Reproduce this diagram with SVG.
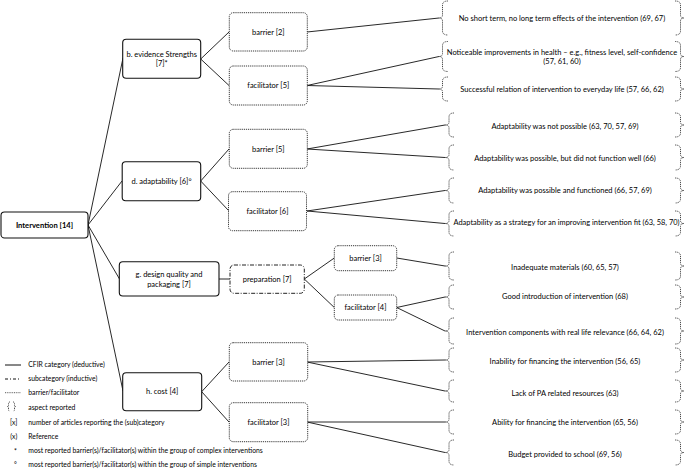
<svg xmlns="http://www.w3.org/2000/svg" width="685" height="469" viewBox="0 0 685 469">
<style>
text{font-family:Lato,"Liberation Sans",sans-serif;fill:#000;}
.t{font-size:7.5px;text-anchor:middle;}
.tb{font-size:7.6px;text-anchor:middle;font-weight:bold;}
.lg{font-size:6.8px;}
.lgc{font-size:6.8px;text-anchor:middle;}
.cat{fill:#fff;stroke:#111;stroke-width:1.1;}
.bf{fill:#fff;stroke:#222;stroke-width:0.9;stroke-dasharray:1.2 0.9;}
.sub{fill:#fff;stroke:#222;stroke-width:1;stroke-dasharray:4 1.5 1 1.5;}
.br{fill:none;stroke:#333;stroke-width:0.9;stroke-dasharray:1.1 0.8;}
.c{stroke:#111;stroke-width:0.9;fill:none;}
</style>
<rect width="685" height="469" fill="#fff"/>
<g id="connectors">
<line class="c" x1="88" y1="225" x2="123" y2="58"/>
<line class="c" x1="88" y1="225" x2="122" y2="181"/>
<line class="c" x1="88" y1="225" x2="119.5" y2="279"/>
<line class="c" x1="88" y1="225" x2="123" y2="391"/>
<line class="c" x1="200.7" y1="59" x2="229" y2="32"/>
<line class="c" x1="200.7" y1="59" x2="229" y2="85.5"/>
<line class="c" x1="200.7" y1="181" x2="229" y2="149"/>
<line class="c" x1="200.7" y1="181" x2="229" y2="211"/>
<line class="c" x1="219" y1="279" x2="230" y2="279"/>
<line class="c" x1="304.3" y1="279" x2="334.3" y2="258"/>
<line class="c" x1="304.3" y1="279" x2="334.3" y2="307.5"/>
<line class="c" x1="201.7" y1="391.7" x2="229" y2="362"/>
<line class="c" x1="201.7" y1="391.7" x2="229" y2="422"/>
<line class="c" x1="307" y1="32" x2="439" y2="18"/>
<line class="c" x1="307" y1="85.5" x2="439" y2="56.5"/>
<line class="c" x1="307" y1="85.5" x2="439" y2="89"/>
<line class="c" x1="307" y1="149" x2="445" y2="125"/>
<line class="c" x1="307" y1="149" x2="445" y2="157.5"/>
<line class="c" x1="307" y1="211" x2="445" y2="190.5"/>
<line class="c" x1="307" y1="211" x2="445" y2="223.5"/>
<line class="c" x1="396.7" y1="258" x2="445" y2="266"/>
<line class="c" x1="396.7" y1="307.5" x2="445" y2="297"/>
<line class="c" x1="396.7" y1="307.5" x2="445" y2="331"/>
<line class="c" x1="307" y1="362" x2="445" y2="360"/>
<line class="c" x1="307" y1="362" x2="445" y2="391"/>
<line class="c" x1="307" y1="422" x2="445" y2="422"/>
<line class="c" x1="307" y1="422" x2="445" y2="452.5"/>
</g>
<g id="intervention"><rect class="cat" x="1" y="212" width="87" height="26" rx="3.5"/><text class="tb" x="44.5" y="227.7">Intervention [14]</text></g>
<g id="cat-b"><rect class="cat" x="122.7" y="39.3" width="78" height="39" rx="3.5"/><text class="t" x="161.7" y="56.7">b. evidence Strengths</text><text class="t" x="161.7" y="65.7">[7]*</text></g>
<g id="cat-d"><rect class="cat" x="122.2" y="161.7" width="78.5" height="39" rx="3.5"/><text class="t" x="161.5" y="183.7">d. adaptability [6]°</text></g>
<g id="cat-g"><rect class="cat" x="119.3" y="261.7" width="99.7" height="34.3" rx="3.5"/><text class="t" x="169" y="277.2">g. design quality and</text><text class="t" x="169" y="287.2">packaging [7]</text></g>
<g id="cat-h"><rect class="cat" x="122.7" y="372.7" width="79" height="38" rx="3.5"/><text class="t" x="162.2" y="394.4">h. cost [4]</text></g>
<g id="b-barrier"><rect class="bf" x="229.3" y="12.7" width="78" height="38.3" rx="4"/><text class="t" x="268.3" y="34.5">barrier [2]</text></g>
<g id="b-facilitator"><rect class="bf" x="229.3" y="66" width="78" height="39" rx="4"/><text class="t" x="268.3" y="88">facilitator [5]</text></g>
<g id="d-barrier"><rect class="bf" x="229.3" y="129.3" width="78" height="39" rx="4"/><text class="t" x="268.3" y="151.5">barrier [5]</text></g>
<g id="d-facilitator"><rect class="bf" x="228.5" y="191.7" width="78" height="39" rx="4"/><text class="t" x="267.5" y="213.5">facilitator [6]</text></g>
<g id="g-preparation"><rect class="sub" x="230" y="265" width="74.3" height="28.3" rx="4"/><text class="t" x="267.2" y="281.5">preparation [7]</text></g>
<g id="g-barrier"><rect class="bf" x="334.3" y="245.7" width="62.4" height="25" rx="4"/><text class="t" x="365.5" y="260.5">barrier [3]</text></g>
<g id="g-facilitator"><rect class="bf" x="334.3" y="295" width="62.4" height="25" rx="4"/><text class="t" x="365.5" y="310">facilitator [4]</text></g>
<g id="h-barrier"><rect class="bf" x="229.3" y="342.7" width="78.4" height="38.3" rx="4"/><text class="t" x="268.5" y="364.5">barrier [3]</text></g>
<g id="h-facilitator"><rect class="bf" x="229.3" y="402.7" width="78.4" height="39" rx="4"/><text class="t" x="268.5" y="424.5">facilitator [3]</text></g>
<g id="a1"><path class="br" d="M448,1 Q442.5,1 442.5,5 L442.5,15 Q442.5,18 439,18 Q442.5,18 442.5,21 L442.5,31 Q442.5,35 448,35"/><path class="br" d="M675,1 Q680.5,1 680.5,5 L680.5,15 Q680.5,18 684,18 Q680.5,18 680.5,21 L680.5,31 Q680.5,35 675,35"/><text class="t" x="562" y="20.5">No short term, no long term effects of the intervention (69, 67)</text></g>
<g id="a2"><path class="br" d="M448,41.5 Q442.5,41.5 442.5,45.5 L442.5,53.5 Q442.5,56.5 439,56.5 Q442.5,56.5 442.5,59.5 L442.5,67.5 Q442.5,71.5 448,71.5"/><path class="br" d="M675,41.5 Q680.5,41.5 680.5,45.5 L680.5,53.5 Q680.5,56.5 684,56.5 Q680.5,56.5 680.5,59.5 L680.5,67.5 Q680.5,71.5 675,71.5"/><text class="t" x="562" y="55">Noticeable improvements in health – e.g., fitness level, self-confidence</text><text class="t" x="562" y="64">(57, 61, 60)</text></g>
<g id="a3"><path class="br" d="M448,77 Q442.5,77 442.5,81 L442.5,86 Q442.5,89 439,89 Q442.5,89 442.5,92 L442.5,97 Q442.5,101 448,101"/><path class="br" d="M675,77 Q680.5,77 680.5,81 L680.5,86 Q680.5,89 684,89 Q680.5,89 680.5,92 L680.5,97 Q680.5,101 675,101"/><text class="t" x="562" y="92">Successful relation of intervention to everyday life (57, 66, 62)</text></g>
<g id="a4"><path class="br" d="M454,113 Q449,113 449,117 L449,122 Q449,125 445,125 Q449,125 449,128 L449,133 Q449,137 454,137"/><path class="br" d="M675,113 Q680.5,113 680.5,117 L680.5,122 Q680.5,125 684,125 Q680.5,125 680.5,128 L680.5,133 Q680.5,137 675,137"/><text class="t" x="565" y="128.5">Adaptability was not possible (63, 70, 57, 69)</text></g>
<g id="a5"><path class="br" d="M454,145 Q449,145 449,149 L449,154.5 Q449,157.5 445,157.5 Q449,157.5 449,160.5 L449,166 Q449,170 454,170"/><path class="br" d="M675,145 Q680.5,145 680.5,149 L680.5,154.5 Q680.5,157.5 684,157.5 Q680.5,157.5 680.5,160.5 L680.5,166 Q680.5,170 675,170"/><text class="t" x="565" y="160.5">Adaptability was possible, but did not function well (66)</text></g>
<g id="a6"><path class="br" d="M454,178 Q449,178 449,182 L449,187.5 Q449,190.5 445,190.5 Q449,190.5 449,193.5 L449,199 Q449,203 454,203"/><path class="br" d="M675,178 Q680.5,178 680.5,182 L680.5,187.5 Q680.5,190.5 684,190.5 Q680.5,190.5 680.5,193.5 L680.5,199 Q680.5,203 675,203"/><text class="t" x="565" y="192.5">Adaptability was possible and functioned (66, 57, 69)</text></g>
<g id="a7"><path class="br" d="M454,211 Q449,211 449,215 L449,220.5 Q449,223.5 445,223.5 Q449,223.5 449,226.5 L449,232 Q449,236 454,236"/><path class="br" d="M675,211 Q680.5,211 680.5,215 L680.5,220.5 Q680.5,223.5 684,223.5 Q680.5,223.5 680.5,226.5 L680.5,232 Q680.5,236 675,236"/><text class="t" x="566.5" y="225.2" textLength="226" lengthAdjust="spacingAndGlyphs">Adaptability as a strategy for an improving intervention fit (63, 58, 70)</text></g>
<g id="a8"><path class="br" d="M454,252 Q449,252 449,256 L449,263 Q449,266 445,266 Q449,266 449,269 L449,276 Q449,280 454,280"/><path class="br" d="M675,252 Q680.5,252 680.5,256 L680.5,263 Q680.5,266 684,266 Q680.5,266 680.5,269 L680.5,276 Q680.5,280 675,280"/><text class="t" x="565" y="269.5">Inadequate materials (60, 65, 57)</text></g>
<g id="a9"><path class="br" d="M454,285 Q449,285 449,289 L449,294 Q449,297 445,297 Q449,297 449,300 L449,305 Q449,309 454,309"/><path class="br" d="M675,285 Q680.5,285 680.5,289 L680.5,294 Q680.5,297 684,297 Q680.5,297 680.5,300 L680.5,305 Q680.5,309 675,309"/><text class="t" x="565" y="299.2">Good introduction of intervention (68)</text></g>
<g id="a10"><path class="br" d="M454,318 Q449,318 449,322 L449,328 Q449,331 445,331 Q449,331 449,334 L449,340 Q449,344 454,344"/><path class="br" d="M675,318 Q680.5,318 680.5,322 L680.5,328 Q680.5,331 684,331 Q680.5,331 680.5,334 L680.5,340 Q680.5,344 675,344"/><text class="t" x="565" y="334.7">Intervention components with real life relevance (66, 64, 62)</text></g>
<g id="a11"><path class="br" d="M454,348 Q449,348 449,352 L449,357 Q449,360 445,360 Q449,360 449,363 L449,368 Q449,372 454,372"/><path class="br" d="M675,348 Q680.5,348 680.5,352 L680.5,357 Q680.5,360 684,360 Q680.5,360 680.5,363 L680.5,368 Q680.5,372 675,372"/><text class="t" x="565" y="364.2">Inability for financing the intervention (56, 65)</text></g>
<g id="a12"><path class="br" d="M454,380 Q449,380 449,384 L449,388 Q449,391 445,391 Q449,391 449,394 L449,398 Q449,402 454,402"/><path class="br" d="M675,380 Q680.5,380 680.5,384 L680.5,388 Q680.5,391 684,391 Q680.5,391 680.5,394 L680.5,398 Q680.5,402 675,402"/><text class="t" x="565" y="395.7">Lack of PA related resources (63)</text></g>
<g id="a13"><path class="br" d="M454,410 Q449,410 449,414 L449,419 Q449,422 445,422 Q449,422 449,425 L449,430 Q449,434 454,434"/><path class="br" d="M675,410 Q680.5,410 680.5,414 L680.5,419 Q680.5,422 684,422 Q680.5,422 680.5,425 L680.5,430 Q680.5,434 675,434"/><text class="t" x="565" y="425.2">Ability for financing the intervention (65, 56)</text></g>
<g id="a14"><path class="br" d="M454,440 Q449,440 449,444 L449,449.5 Q449,452.5 445,452.5 Q449,452.5 449,455.5 L449,461 Q449,465 454,465"/><path class="br" d="M675,440 Q680.5,440 680.5,444 L680.5,449.5 Q680.5,452.5 684,452.5 Q680.5,452.5 680.5,455.5 L680.5,461 Q680.5,465 675,465"/><text class="t" x="565" y="456.5">Budget provided to school (69, 56)</text></g>
<g id="legend">
<line x1="5" y1="365" x2="21" y2="365" stroke="#111" stroke-width="1"/>
<line x1="5" y1="379" x2="21" y2="379" stroke="#111" stroke-width="1" stroke-dasharray="3 2 1 2"/>
<line x1="5" y1="392.7" x2="21" y2="392.7" stroke="#333" stroke-width="0.8" stroke-dasharray="1 0.8"/>
<path class="br" d="M10,402 Q8.5,402 8.5,403.5 L8.5,405.5 Q8.5,406.5 7.3,406.5 Q8.5,406.5 8.5,407.5 L8.5,409.5 Q8.5,411 10,411"/>
<path class="br" d="M13,402 Q14.5,402 14.5,403.5 L14.5,405.5 Q14.5,406.5 15.7,406.5 Q14.5,406.5 14.5,407.5 L14.5,409.5 Q14.5,411 13,411"/>
<text class="lg" x="28.3" y="367.4">CFIR category (deductive)</text>
<text class="lg" x="28.3" y="381.4">subcategory (inductive)</text>
<text class="lg" x="28.3" y="395.1">barrier/facilitator</text>
<text class="lg" x="28.3" y="410.1">aspect reported</text>
<text class="lgc" x="13.7" y="425.1">[x]</text>
<text class="lg" x="28.3" y="425.1">number of articles reporting the (sub)category</text>
<text class="lgc" x="13.7" y="439.1">(x)</text>
<text class="lg" x="28.3" y="439.1">Reference</text>
<text class="lgc" x="15.5" y="454">*</text>
<text class="lg" x="28.3" y="453.1">most reported barrier(s)/facilitator(s) within the group of complex interventions</text>
<text class="lgc" x="15.5" y="467.4">°</text>
<text class="lg" x="28.3" y="467.4">most reported barrier(s)/facilitator(s) within the group of simple interventions</text>
</g>
</svg>
